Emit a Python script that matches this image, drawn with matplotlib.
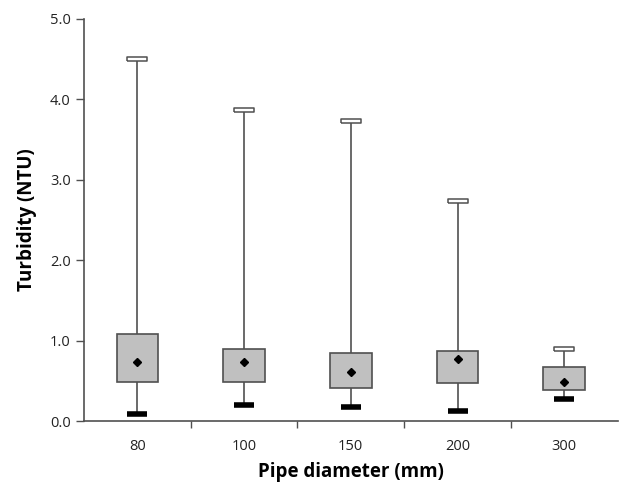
import matplotlib.pyplot as plt
import numpy as np

# values
diameters = ['80', '100', '150', '200', '300']
q1 = [0.49, 0.49, 0.41, 0.47, 0.39]
q3 = [1.08, 0.90, 0.85, 0.87, 0.67]
means = [0.73, 0.73, 0.61, 0.77, 0.49]
mins = [0.09, 0.20, 0.18, 0.13, 0.27]
maxs = [4.50, 3.87, 3.73, 2.74, 0.89]

plt.rcParams['font.family'] = ['Open Sans', 'DejaVu Sans']

fig = plt.figure(figsize=(6.19, 4.84), dpi=100)
ax = fig.add_axes([0.1357, 0.130, 0.862, 0.831])

x = np.arange(len(diameters))
edge = '#505050'

# whiskers first so boxes and caps sit on top
ax.vlines(x, q3, maxs, color=edge, lw=1.2, zorder=1)
ax.vlines(x, mins, q1, color=edge, lw=1.2, zorder=1)

ax.bar(x, np.array(q3) - np.array(q1), bottom=q1, width=0.39,
       color='#c0c0c0', edgecolor=edge, lw=1.2, zorder=2)

# max caps: hollow flat rectangle, min caps: solid black bar
rect = [(-5, -0.9), (5, -0.9), (5, 0.9), (-5, 0.9), (-5, -0.9)]
ax.plot(x, maxs, ls='none', marker=rect, ms=15, mfc='white', mec=edge,
        mew=1.1, zorder=3)
ax.plot(x, mins, ls='none', marker='_', ms=15, mec='black', mew=4, zorder=3)
ax.plot(x, means, ls='none', marker='D', ms=4.3, color='black', zorder=4)

ax.set_xlim(-0.5, len(diameters) - 0.5)
ax.set_ylim(0, 5)
ax.set_yticks(np.arange(0, 5.1, 1))
ax.set_yticklabels(['%.1f' % v for v in np.arange(0, 5.1, 1)])

ax.set_xticks(np.arange(0.5, len(diameters) - 0.5, 1))
ax.set_xticklabels([])
ax.set_xticks(x, minor=True)
ax.set_xticklabels(diameters, minor=True)
ax.tick_params(axis='x', which='minor', length=0, pad=13)
ax.tick_params(axis='y', which='major', length=6, width=1, color=edge,
               direction='out', labelsize=10.5, labelcolor='#222222')
ax.tick_params(axis='x', which='major', length=5, width=1, color=edge,
               direction='out')
ax.tick_params(axis='x', which='minor', labelsize=10.5, labelcolor='#222222')

for s in ['top', 'right']:
    ax.spines[s].set_visible(False)
for s in ['left', 'bottom']:
    ax.spines[s].set_color(edge)
    ax.spines[s].set_linewidth(1.2)

ax.set_xlabel('Pipe diameter (mm)', fontsize=13.5, fontweight='bold', labelpad=6)
ax.set_ylabel('Turbidity (NTU)', fontsize=13.5, fontweight='bold', labelpad=9)

fig.savefig('out.png', dpi=100)
